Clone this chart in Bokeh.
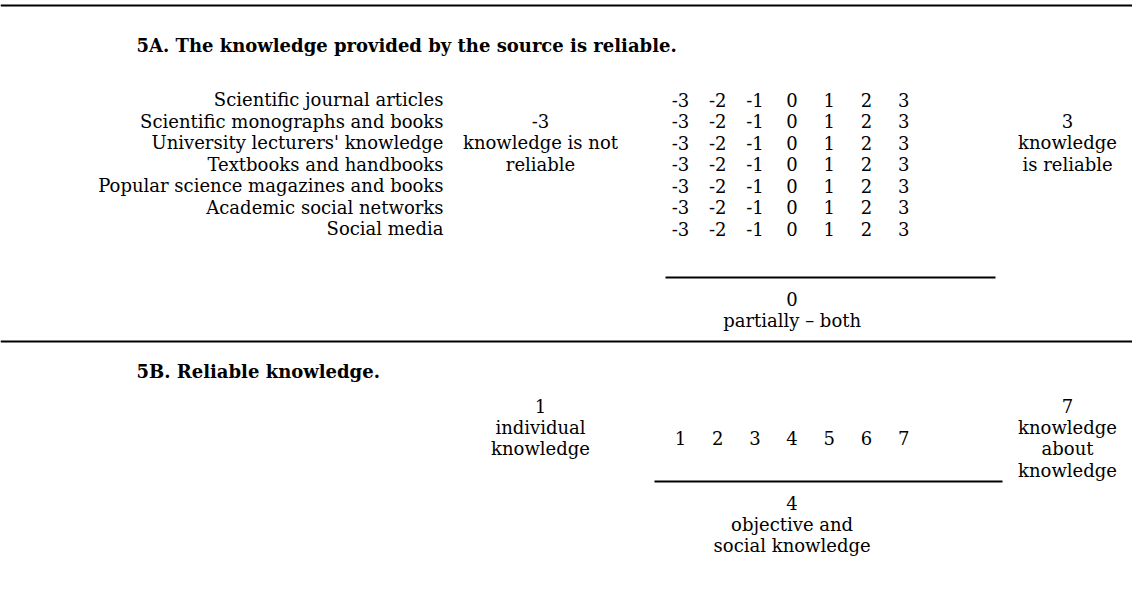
from bokeh.plotting import figure
from bokeh.models import Range1d, ColumnDataSource
from bokeh.core.properties import value
from bokeh.embed import file_html
from bokeh.resources import INLINE

# ---- content ----
title_a = "5A. The knowledge provided by the source is reliable."
title_b = "5B. Reliable knowledge."
sources = ["Scientific journal articles", "Scientific monographs and books",
           "University lecturers' knowledge", "Textbooks and handbooks",
           "Popular science magazines and books", "Academic social networks",
           "Social media"]
scale_a = ["-3", "-2", "-1", "0", "1", "2", "3"]
scale_b = ["1", "2", "3", "4", "5", "6", "7"]
left_a = ["-3", "knowledge is not", "reliable"]
right_a = ["3", "knowledge", "is reliable"]
mid_a = ["0", "partially \u2013 both"]
left_b = ["1", "individual", "knowledge"]
right_b = ["7", "knowledge", "about", "knowledge"]
mid_b = ["4", "objective and", "social knowledge"]

# ---- layout (pixel coordinates) ----
FONT = value("DejaVu Serif")
FS = "18px"
LH = 21.5
col0, col_step = 680, 37.2
label_x = 443
left_x = 540
right_x = 1067

W, H = 1132, 598
p = figure(width=W, height=H, output_backend="svg", toolbar_location=None,
           x_range=Range1d(0, W), y_range=Range1d(H, 0),
           min_border=0)
p.axis.visible = False
p.grid.visible = False
p.outline_line_color = None
p.background_fill_color = "white"
p.border_fill_color = "white"

def txt(xs, ys, texts, align="center", bold=False):
    src = ColumnDataSource(dict(x=xs, y=ys, t=texts))
    p.text("x", "y", text="t", source=src, text_font=FONT, text_font_size=FS,
           text_align=align, text_baseline="middle", text_color="#000000",
           text_font_style="bold" if bold else "normal")

# rules
p.segment(x0=[0, 0], x1=[W, W], y0=[5, 341], y1=[5, 341],
          line_color="black", line_width=2)
p.segment(x0=[665, 654], x1=[995, 1002], y0=[277, 481], y1=[277, 481],
          line_color="black", line_width=2)

# 5A
txt([136], [45], [title_a], align="left", bold=True)
row_y = [99 + LH * i for i in range(len(sources))]
txt([label_x] * len(sources), row_y, sources, align="right")
xs, ys, ts = [], [], []
for yy in row_y:
    for j, s in enumerate(scale_a):
        xs.append(col0 + col_step * j); ys.append(yy); ts.append(s)
txt(xs, ys, ts)
txt([left_x] * 3, [row_y[1] + LH * i for i in range(3)], left_a)
txt([right_x] * 3, [row_y[1] + LH * i for i in range(3)], right_a)
txt([col0 + col_step * 3] * 2, [298 + LH * i for i in range(2)], mid_a)

# 5B
txt([136], [371], [title_b], align="left", bold=True)
txt([left_x] * 3, [405 + LH * i for i in range(3)], left_b)
txt([col0 + col_step * j for j in range(7)], [437] * 7, scale_b)
txt([right_x] * 4, [405 + LH * i for i in range(4)], right_b)
txt([col0 + col_step * 3] * 3, [502 + LH * i for i in range(3)], mid_b)

open("out.html", "w").write(file_html(p, INLINE))
